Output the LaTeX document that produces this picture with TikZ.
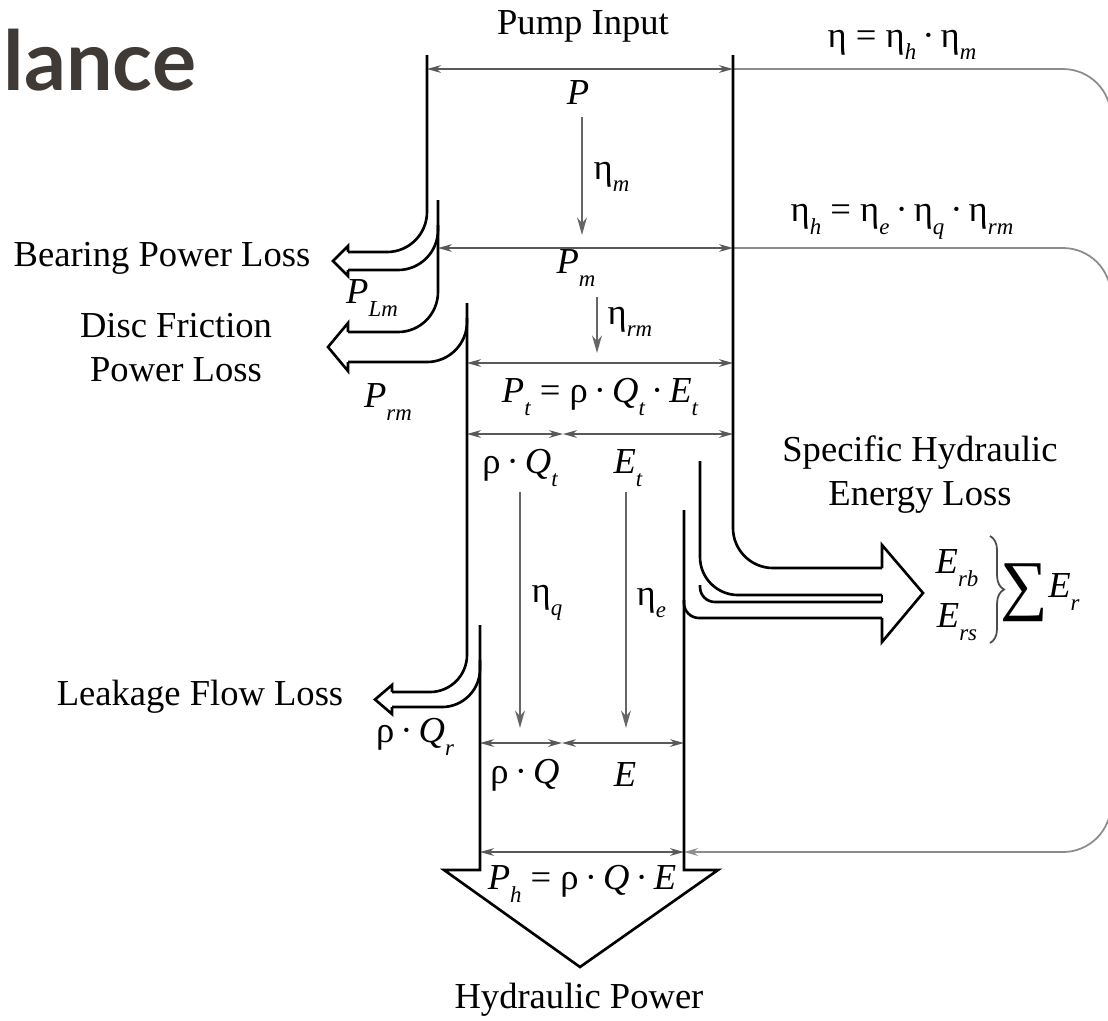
\documentclass[tikz,border=0pt]{standalone}
\usepackage{fontspec}
\setmainfont{Liberation Serif}
\newfontfamily\latofont{Lato}
\usetikzlibrary{arrows.meta,decorations.pathreplacing}
\definecolor{titulo}{HTML}{403A37}
\newcommand\sbi[1]{\raisebox{-0.75ex}{\fontsize{6.5}{6.5}\selectfont\itshape #1}}
\newcommand\pdot{\,·\,}

\begin{document}
\begin{tikzpicture}[x=0.01cm,y=-0.01cm,
  every node/.style={inner sep=0pt,font=\fontsize{10.4}{12.5}\selectfont},
  flujo/.style={line width=0.75pt,line join=miter},
  curva/.style={flujo,rounded corners=#1},
  cota/.style={draw=black!65,line width=0.4pt,{Stealth[length=4pt,width=2.2pt]}-{Stealth[length=4pt,width=2.2pt]}},
  lazo/.style={draw=black!45,line width=0.5pt,rounded corners=0.48cm},
  eta/.style={draw=black!60,line width=0.45pt,-{Stealth[length=5pt,width=2.8pt]}},
  llave/.style={draw=black!70,line width=0.5pt,decorate,decoration={brace,amplitude=4pt}}]
  \useasboundingbox (0,0) rectangle (1108,1020);

  % Título recortado
  \node[anchor=base west,font=\latofont\bfseries\fontsize{23.5}{28}\selectfont,text=titulo] (titulo) at (3,90) {lance};

  % Líneas de cota
  \coordinate (p1) at (427,69);   \coordinate (p2) at (733,69);
  \coordinate (pm1) at (438,248); \coordinate (pm2) at (733,248);
  \coordinate (pt1) at (467,363); \coordinate (pt2) at (733,363);
  \coordinate (qt1) at (467,434); \coordinate (qt2) at (563,434); \coordinate (et2) at (733,434);
  \coordinate (q1) at (480,743);  \coordinate (q2) at (562,743);  \coordinate (e2) at (684,743);
  \coordinate (ph1) at (480,852); \coordinate (ph2) at (684,852);
  \foreach \from/\to in {p1/p2, pm1/pm2, pt1/pt2, qt1/qt2, qt2/et2, q1/q2, q2/e2, ph1/ph2}
    \draw[cota] (\from) -- (\to);

  % Lazos de rendimiento (salen por la derecha)
  \draw[lazo,-{Stealth[length=4pt,width=2.2pt]}] (p2) -- (1111,69) -- (1111,852) -- (ph2);
  \draw[lazo] (pm2) -- (1111,248) -- (1111,500);

  % Flechas de rendimiento
  \coordinate (em1) at (582,117);  \coordinate (em2) at (582,235);
  \coordinate (erm1) at (597,297); \coordinate (erm2) at (597,353);
  \coordinate (eq1) at (520,492);  \coordinate (eq2) at (520,728);
  \coordinate (ee1) at (626,492);  \coordinate (ee2) at (626,728);
  \foreach \from/\to in {em1/em2, erm1/erm2, eq1/eq2, ee1/ee2}
    \draw[eta] (\from) -- (\to);

  % Pérdida en cojinetes
  \draw[curva=0.4cm] (427,55) -- (427,252) -- (348,252);
  \draw[curva=0.4cm] (438,225) -- (438,270) -- (348,270);
  \draw[flujo] (348,252) -- (348,246) -- (333,261) -- (348,276) -- (348,270);

  % Pérdida por fricción de disco
  \draw[curva=0.4cm] (438,200) -- (438,332) -- (348,332);
  \draw[curva=0.4cm] (467,318) -- (467,362) -- (348,362);
  \draw[flujo] (348,332) -- (348,323) -- (328,347) -- (348,371) -- (348,362);

  % Pérdida por fugas
  \draw[curva=0.37cm] (467,303) -- (467,692) -- (392,692);
  \draw[curva=0.38cm] (480,660) -- (480,707) -- (392,707);
  \draw[flujo] (392,692) -- (392,685) -- (375,699.5) -- (392,714) -- (392,707);

  % Potencia hidráulica
  \draw[flujo] (480,625) -- (480,870) -- (444,870) -- (580,967) -- (718,870) -- (684,870) -- (684,510);

  % Pérdidas de energía hidráulica
  \draw[curva=0.4cm] (733,55) -- (733,568) -- (882,568);
  \draw[curva=0.38cm] (700,461) -- (700,595) -- (882,595);
  \draw[curva=0.15cm] (700,585) -- (700,602) -- (882,602);
  \draw[curva=0.15cm] (684,600) -- (684,618) -- (882,618);
  \draw[flujo] (882,595) -- (882,602);
  \draw[flujo] (882,568) -- (882,545) -- (923,593) -- (882,642) -- (882,618);

  % Textos
  \node (entrada) at (583,26) {Pump Input};
  \node (P) at (578,93) {\textit{P}};
  \node[anchor=west] (etam) at (593,177) {η\sbi{m}};
  \node (Pm) at (576,268) {\textit{P}\sbi{m}};
  \node[anchor=west] (etarm) at (607,322) {η\sbi{rm}};
  \node (Pt) at (600,397) {\textit{P}\sbi{t} = ρ\pdot\textit{Q}\sbi{t}\pdot\textit{E}\sbi{t}};
  \node (rhoQt) at (520,468) {ρ\pdot\textit{Q}\sbi{t}};
  \node (Et) at (628,468) {\textit{E}\sbi{t}};
  \node[anchor=west] (etaq) at (531,603) {η\sbi{q}};
  \node[anchor=west] (etae) at (636,603) {η\sbi{e}};
  \node (rhoQ) at (525,775) {ρ\pdot\textit{Q}};
  \node (E) at (625,775) {\textit{E}};
  \node (Ph) at (582,884) {\textit{P}\sbi{h} = ρ\pdot\textit{Q}\pdot\textit{E}};
  \node (hidr) at (579,1000) {Hydraulic Power};
  \node (etatot) at (902,45) {η = η\sbi{h}\pdot η\sbi{m}};
  \node (etah) at (902,222) {η\sbi{h} = η\sbi{e}\pdot η\sbi{q}\pdot η\sbi{rm}};
  \node (cojinete) at (162,258) {Bearing Power Loss};
  \node[align=center] (disco) at (176,348) {Disc Friction\\Power Loss};
  \node (PLm) at (372,298) {\textit{P}\sbi{Lm}};
  \node (Prm) at (388,402) {\textit{P}\sbi{rm}};
  \node (fuga) at (200,697) {Leakage Flow Loss};
  \node (rhoQr) at (415,737) {ρ\pdot\textit{Q}\sbi{r}};
  \node[align=center] (espec) at (920,475) {Specific Hydraulic\\Energy Loss};
  \node (Erb) at (957,568) {\textit{E}\sbi{rb}};
  \node (Ers) at (957,622) {\textit{E}\sbi{rs}};
  \coordinate (ll1) at (990,536); \coordinate (ll2) at (990,643);
  \draw[llave] (ll1) -- (ll2);
  \node (suma) at (1024,593) {\fontsize{19}{19}\selectfont ∑};
  \node (Er) at (1064,592) {\textit{E}\sbi{r}};
\end{tikzpicture}
\end{document}
